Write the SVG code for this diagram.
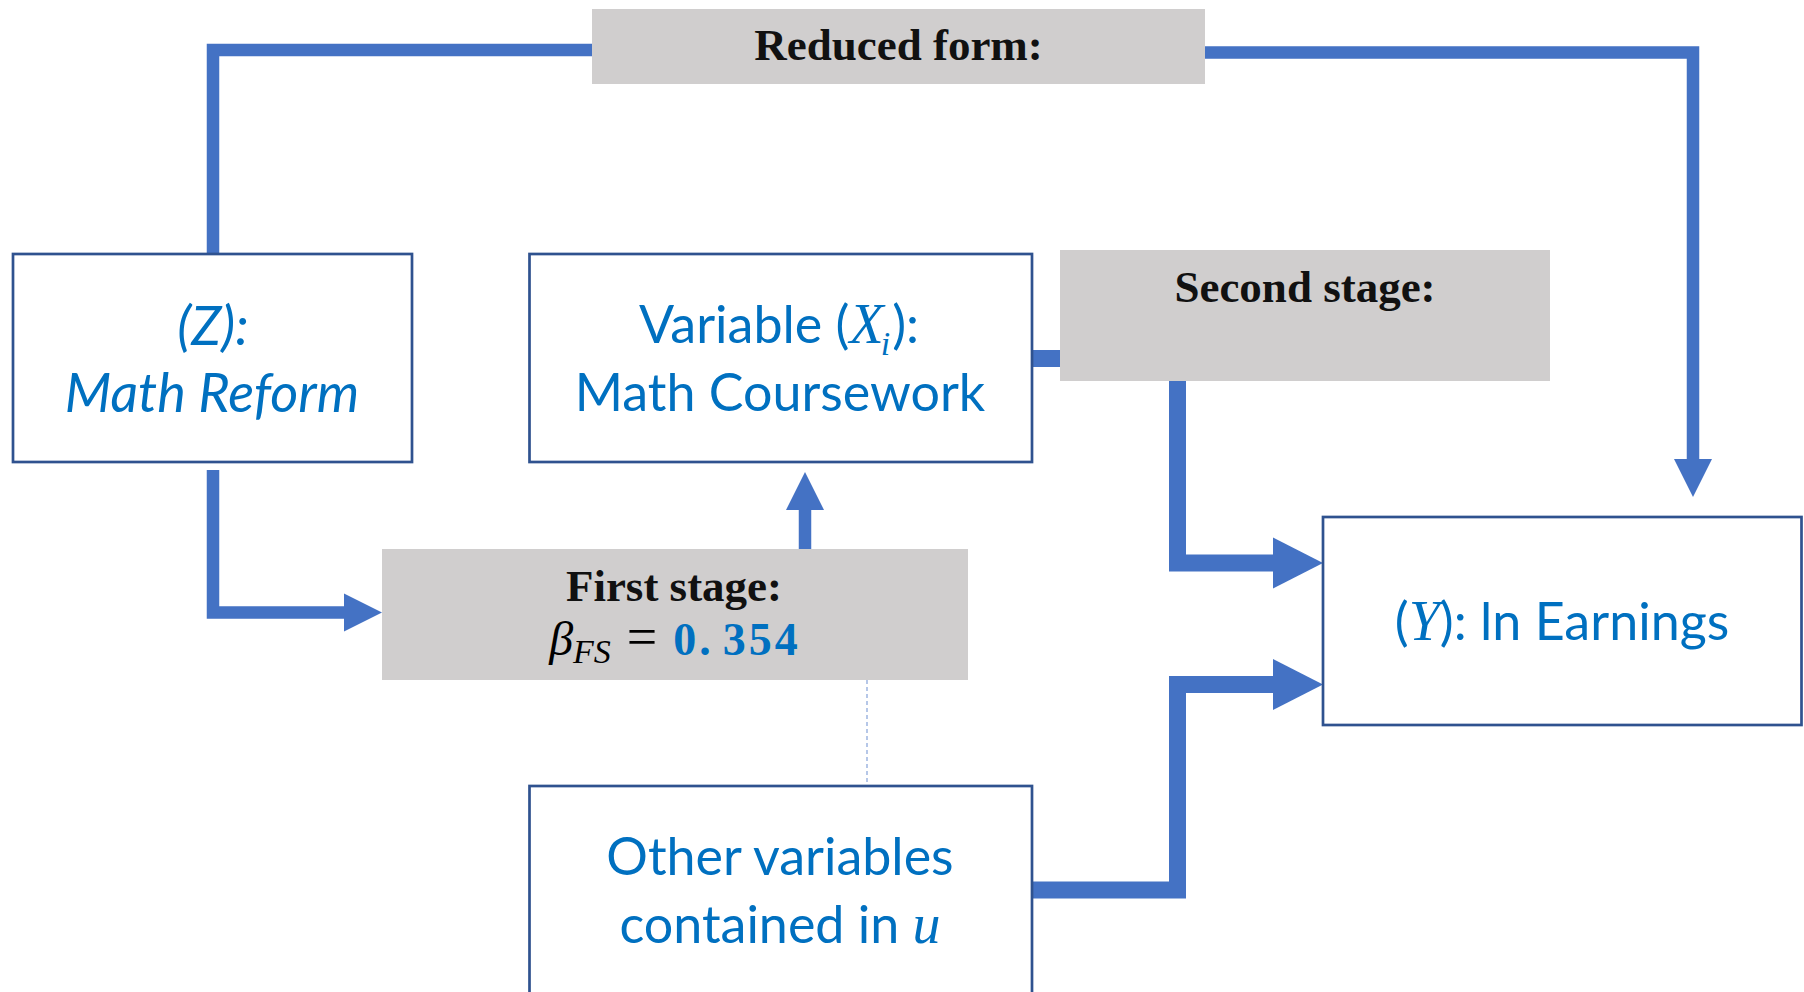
<svg xmlns="http://www.w3.org/2000/svg" width="1804" height="992" viewBox="0 0 1804 992">
<style>
.box{fill:#FFFFFF;stroke:#2F528F;stroke-width:2.7}
.grey{fill:#D0CECE}
.t{font-family:Lato,"Open Sans",sans-serif;font-size:52px;fill:#0070C0}
.it{font-style:italic;font-size:54px}
.m{font-family:"Liberation Serif","Times New Roman",serif;font-style:italic;font-size:56px}
.sub{font-family:"Liberation Serif","Times New Roman",serif;font-style:italic;font-size:34px}
.lbl{font-family:"Liberation Serif","Times New Roman",serif;font-weight:bold;font-size:45px;fill:#111111}
.c{fill:none;stroke:#4472C4;stroke-linejoin:miter;stroke-linecap:butt}
.thin{stroke-width:12.5}
.thick{stroke-width:17}
</style>
<defs>
<marker id="arrS" markerUnits="userSpaceOnUse" markerWidth="40" markerHeight="40" refX="0" refY="19" orient="auto" overflow="visible">
<path d="M0,0 L38,19 L0,38 Z" fill="#4472C4"/>
</marker>
<marker id="arrL" markerUnits="userSpaceOnUse" markerWidth="52" markerHeight="52" refX="0" refY="25.5" orient="auto" overflow="visible">
<path d="M0,0 L50,25.5 L0,51 Z" fill="#4472C4"/>
</marker>
</defs>
<rect width="1804" height="992" fill="#FFFFFF"/>
<g id="connectors">
<polyline class="c thin" points="213,254 213,50 593,50"/>
<polyline class="c thin" points="1205,52.5 1693,52.5 1693,459" marker-end="url(#arrS)"/>
<polyline class="c thin" points="213,470 213,612.5 344,612.5" marker-end="url(#arrS)"/>
<polyline class="c thin" points="805,549 805,510" marker-end="url(#arrS)"/>
<line class="c thick" x1="1031" y1="358.5" x2="1061" y2="358.5"/>
<polyline class="c thick" points="1177.5,380 1177.5,563 1273,563" marker-end="url(#arrL)"/>
<polyline class="c thick" points="1031,890 1177.5,890 1177.5,684.5 1273,684.5" marker-end="url(#arrL)"/>
<line x1="867" y1="680" x2="867" y2="786" stroke="#8FAADC" stroke-width="1.3" stroke-dasharray="4 3"/>
</g>
<g id="reduced-form">
<rect class="grey" x="592" y="9" width="613" height="75"/>
<text class="lbl" x="898.5" y="60" text-anchor="middle">Reduced form:</text>
</g>
<g id="math-reform">
<rect class="box" x="13" y="254" width="399" height="208"/>
<text class="t it" x="213" y="345" text-anchor="middle">(Z):</text>
<text class="t it" x="212" y="412" text-anchor="middle">Math Reform</text>
</g>
<g id="variable-x">
<rect class="box" x="529.5" y="254" width="502.5" height="208"/>
<text class="t" x="779" y="343" text-anchor="middle">Variable (<tspan class="m">X</tspan><tspan class="sub" dy="12" dx="-3">i</tspan><tspan dy="-12" dx="2">):</tspan></text>
<text class="t" x="780" y="411" text-anchor="middle">Math Coursework</text>
</g>
<g id="second-stage">
<rect class="grey" x="1060" y="250" width="490" height="131"/>
<text class="lbl" x="1305" y="302" text-anchor="middle">Second stage:</text>
</g>
<g id="first-stage">
<rect class="grey" x="382" y="549" width="586" height="131"/>
<text class="lbl" x="674" y="601" text-anchor="middle">First stage:</text>
<text x="675" y="655" text-anchor="middle" font-family="Liberation Serif, Times New Roman, serif" font-size="48" fill="#000000"><tspan font-style="italic">β</tspan><tspan font-style="italic" font-size="34" dy="8">FS</tspan><tspan dy="-8" dx="16" font-size="54">=</tspan><tspan dx="16" font-weight="bold" font-size="46" fill="#0070C0" letter-spacing="3">0.<tspan dx="9">354</tspan></tspan></text>
</g>
<g id="y-earnings">
<rect class="box" x="1323" y="517" width="478.5" height="208"/>
<text class="t" x="1562" y="640" text-anchor="middle">(<tspan class="m">Y</tspan>): ln Earnings</text>
</g>
<g id="other-variables">
<rect class="box" x="529.5" y="786" width="502.5" height="230"/>
<text class="t" x="780" y="875" text-anchor="middle">Other variables</text>
<text class="t" x="780" y="943" text-anchor="middle">contained in <tspan class="m">u</tspan></text>
</g>
</svg>
